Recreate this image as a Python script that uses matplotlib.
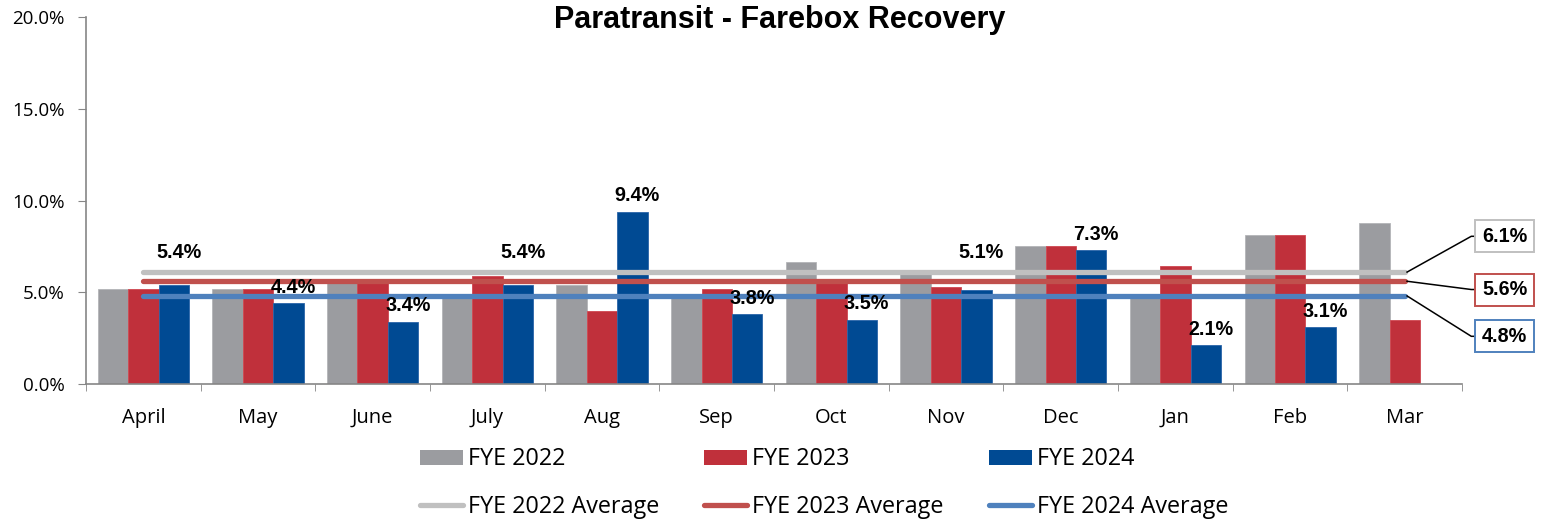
import numpy as np
import matplotlib
matplotlib.use("Agg")
import matplotlib.pyplot as plt
from matplotlib.lines import Line2D
from matplotlib.patches import Patch

# ---- data (percent) ----
months = ["April", "May", "June", "July", "Aug", "Sep", "Oct", "Nov", "Dec", "Jan", "Feb", "Mar"]
fye_2022 = [5.2, 5.2, 5.5, 4.7, 5.4, 4.8, 6.65, 6.0, 7.5, 4.7, 8.1, 8.75]
fye_2023 = [5.2, 5.2, 5.5, 5.9, 4.0, 5.2, 5.5, 5.3, 7.5, 6.45, 8.1, 3.5]
fye_2024 = [5.4, 4.4, 3.4, 5.4, 9.4, 3.8, 3.5, 5.1, 7.3, 2.1, 3.1, np.nan]
avg_2022 = 6.1
avg_2023 = 5.6
avg_2024 = 4.8

series_names = ["FYE 2022", "FYE 2023", "FYE 2024"]
bar_colors = ["#9B9CA0", "#C0303B", "#004A93"]
edge_colors = ["#B4B5B8", "#CF4650", "#2A64A8"]
avg_colors = ["#C0C0C0", "#C0504D", "#4F81BD"]

# ---- figure ----
fig = plt.figure(figsize=(15.41, 5.2), dpi=100)
ax = fig.add_axes([0.0558, 0.2615, 0.893, 0.7058])

x = np.arange(len(months))
w = 0.265
for k, vals in enumerate([fye_2022, fye_2023, fye_2024]):
    ax.bar(x + (k - 1) * w, vals, width=w, color=bar_colors[k],
           edgecolor=edge_colors[k], linewidth=0.6, zorder=2)

avgs = [avg_2022, avg_2023, avg_2024]
for k, a in enumerate(avgs):
    ax.plot([x[0], x[-1]], [a, a], color=avg_colors[k], lw=3.8,
            solid_capstyle="round", zorder=3)

# data labels on FYE 2024 bars (moved above the average band when they would sit in it)
for i, v in enumerate(fye_2024):
    if np.isnan(v):
        continue
    y = v
    if avg_2024 <= v < avg_2022:
        y = avg_2022 + 0.2
    ax.annotate(f"{v:.1f}%", (x[i] + w, y), xytext=(3.5, 11.5), textcoords="offset points",
                ha="center", va="center", fontsize=14.2, fontweight="bold",
                family="Liberation Sans", zorder=5)

# callouts for the averages
box_y = [avg_2022 + 1.95, avg_2023 - 0.45, avg_2024 - 2.2]
for k, a in enumerate(avgs):
    ax.plot([x[-1] + 0.02, 11.58, 11.85], [a, box_y[k], box_y[k]], color="black",
            lw=1.1, clip_on=False, zorder=4)
    ax.text(11.87, box_y[k], f"{a:.1f}%", ha="center", va="center", fontsize=14.2,
            fontweight="bold", family="Liberation Sans", zorder=6, clip_on=False,
            bbox=dict(boxstyle="square,pad=0.33", facecolor="white",
                      edgecolor=avg_colors[k], linewidth=1.4))

# axes styling
ax.set_xlim(-0.5, 11.5)
ax.set_ylim(0, 20)
ax.set_yticks([0, 5, 10, 15, 20])
ax.set_yticklabels([f"{t:.1f}%" for t in [0, 5, 10, 15, 20]], family="Open Sans", fontsize=13.5)
ax.set_xticks(x)
ax.set_xticklabels(months, family="Open Sans", fontsize=14.5)
ax.set_xticks(np.arange(-0.5, 12, 1), minor=True)
ax.tick_params(axis="x", which="major", length=0, pad=17)
ax.tick_params(axis="x", which="minor", length=5, color="#868686", direction="out")
ax.tick_params(axis="y", length=5.5, color="#868686", pad=10)
for s in ["top", "right"]:
    ax.spines[s].set_visible(False)
for s in ["left", "bottom"]:
    ax.spines[s].set_color("#868686")
    ax.spines[s].set_linewidth(1.2)

fig.text(0.506, 0.962, "Paratransit - Farebox Recovery", ha="center", va="center",
         fontsize=22, fontweight="bold", family="Liberation Sans")

handles = []
labels = []
for k in range(3):
    handles.append(Patch(facecolor=bar_colors[k], edgecolor="none"))
    labels.append(series_names[k])
    handles.append(Line2D([], [], color=avg_colors[k], lw=3.8, solid_capstyle="round"))
    labels.append(series_names[k] + " Average")
fig.legend(handles, labels, ncol=3, loc="center", bbox_to_anchor=(0.5347, 0.071),
           frameon=False, prop={"family": "Open Sans", "size": 16.8},
           handlelength=1.85, handleheight=0.62, handletextpad=0.2,
           columnspacing=1.95, labelspacing=1.0, borderpad=0)

fig.savefig("out.png", dpi=100)
